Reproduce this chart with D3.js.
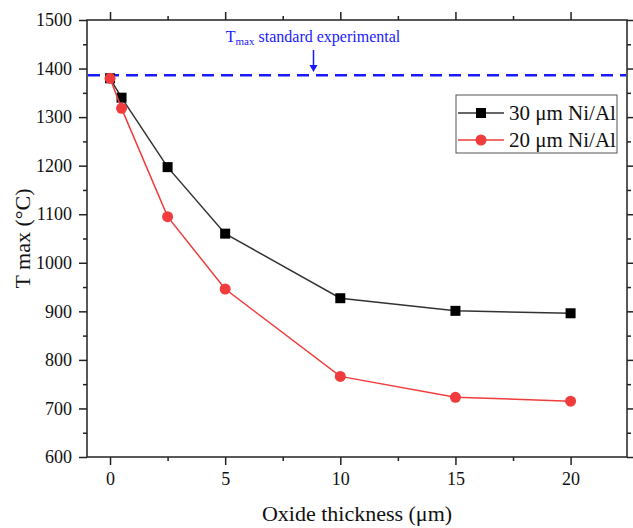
<!DOCTYPE html>
<html><head><meta charset="utf-8">
<script src="https://cdn.jsdelivr.net/npm/d3@7"></script>
<style>body{margin:0;background:#fff}svg{display:block}</style>
</head><body>
<svg id="c" width="633" height="528"></svg>
<script>
const thickness = [0, 0.5, 2.5, 5, 10, 15, 20];
const tmax30 = [1380, 1340, 1197, 1060, 927, 901, 896];
const tmax20 = [1380, 1318, 1095, 946, 766, 723, 715];
const xTicks = [0, 5, 10, 15, 20];
const yTicks = [600, 700, 800, 900, 1000, 1100, 1200, 1300, 1400, 1500];
const tmaxStandard = 1386;
const seriesNames = ["30 \u03bcm Ni/Al", "20 \u03bcm Ni/Al"];

const svg = d3.select("#c");
const L = 87, R = 627, T = 20, B = 457;
const x = d3.scaleLinear().domain([-1, 22.45]).range([L, R]);
const y = d3.scaleLinear().domain([600, 1500]).range([B, T]);
const font = "'Liberation Serif', 'Times New Roman', serif";

// frame
svg.append("rect").attr("x", L).attr("y", T).attr("width", R - L).attr("height", B - T)
  .attr("fill", "none").attr("stroke", "#222").attr("stroke-width", 1.5);

const xMinor = d3.range(0, 22.5, 2.5);
const yMinor = d3.range(600, 1501, 50);
function axes(g, axisFn, scale, major, minor, showLabels) {
  const a = axisFn(scale).tickValues(major).tickSize(8).tickSizeOuter(0)
    .tickFormat(showLabels ? d3.format("d") : "").tickPadding(7);
  g.call(a);
  const m = axisFn(scale).tickValues(minor.filter(v => !major.includes(v))).tickSize(4).tickSizeOuter(0).tickFormat("");
  g.append("g").call(m);
  g.selectAll("path.domain").remove();
  g.selectAll("line").attr("stroke", "#222").attr("stroke-width", 1.5);
  g.selectAll("text").attr("font-family", font).attr("font-size", 18).attr("fill", "#111");
}
axes(svg.append("g").attr("transform", `translate(0,${B})`), d3.axisBottom, x, xTicks, xMinor, true);
axes(svg.append("g").attr("transform", `translate(0,${T})`), d3.axisTop, x, xTicks, xMinor, false);
axes(svg.append("g").attr("transform", `translate(${L},0)`), d3.axisLeft, y, yTicks, yMinor, true);
axes(svg.append("g").attr("transform", `translate(${R},0)`), d3.axisRight, y, yTicks, yMinor, false);

// axis titles
svg.append("text").attr("x", (L + R) / 2).attr("y", 521).attr("text-anchor", "middle")
  .attr("font-family", font).attr("font-size", 22).attr("fill", "#111").text("Oxide thickness (\u03bcm)");
svg.append("text").attr("transform", `translate(30,${(T + B) / 2}) rotate(-90)`).attr("text-anchor", "middle")
  .attr("font-family", font).attr("font-size", 22).attr("fill", "#111").text("T max (\u00b0C)");

// standard line
svg.append("line").attr("x1", L + 1).attr("x2", R - 1).attr("y1", y(tmaxStandard)).attr("y2", y(tmaxStandard))
  .attr("stroke", "#1a1aff").attr("stroke-width", 2.5).attr("stroke-dasharray", "12,7");
const ann = svg.append("text").attr("x", 313).attr("y", 42).attr("text-anchor", "middle")
  .attr("font-family", font).attr("font-size", 16).attr("fill", "#1a1aff");
ann.append("tspan").text("T");
ann.append("tspan").attr("font-size", 11).attr("dy", 3).text("max");
ann.append("tspan").attr("dy", -3).text(" standard experimental");
svg.append("line").attr("x1", 313.5).attr("x2", 313.5).attr("y1", 50).attr("y2", 68)
  .attr("stroke", "#1a1aff").attr("stroke-width", 1.5);
svg.append("path").attr("d", "M309.5,65 L317.5,65 L313.5,72 Z").attr("fill", "#1a1aff");

const line = d3.line().x(d => x(d[0])).y(d => y(d[1]));
const black = "#333", red = "#f03c3c";
const d30 = thickness.map((t, i) => [t, tmax30[i]]);
const d20 = thickness.map((t, i) => [t, tmax20[i]]);
svg.append("path").datum(d30).attr("d", line).attr("fill", "none").attr("stroke", black).attr("stroke-width", 1.5);
svg.selectAll("rect.s30").data(d30).enter().append("rect").attr("class", "s30")
  .attr("x", d => x(d[0]) - 5).attr("y", d => y(d[1]) - 5).attr("width", 10).attr("height", 10).attr("fill", "#000");
svg.append("path").datum(d20).attr("d", line).attr("fill", "none").attr("stroke", red).attr("stroke-width", 1.5);
svg.selectAll("circle.s20").data(d20).enter().append("circle").attr("class", "s20")
  .attr("cx", d => x(d[0])).attr("cy", d => y(d[1])).attr("r", 5.5).attr("fill", red);

// legend
const lg = svg.append("g");
lg.append("rect").attr("x", 456).attr("y", 95).attr("width", 161).attr("height", 58)
  .attr("fill", "#fff").attr("stroke", "#555").attr("stroke-width", 1);
[[black, "sq"], [red, "ci"]].forEach((s, i) => {
  const cy = 113 + i * 27;
  lg.append("line").attr("x1", 458).attr("x2", 504).attr("y1", cy).attr("y2", cy).attr("stroke", s[0]).attr("stroke-width", 1.5);
  if (s[1] === "sq") lg.append("rect").attr("x", 476).attr("y", cy - 5).attr("width", 10).attr("height", 10).attr("fill", "#000");
  else lg.append("circle").attr("cx", 481).attr("cy", cy).attr("r", 5.5).attr("fill", red);
  lg.append("text").attr("x", 509).attr("y", cy + 7).attr("font-family", font).attr("font-size", 21).attr("fill", "#111").text(seriesNames[i]);
});
</script>
</body></html>
